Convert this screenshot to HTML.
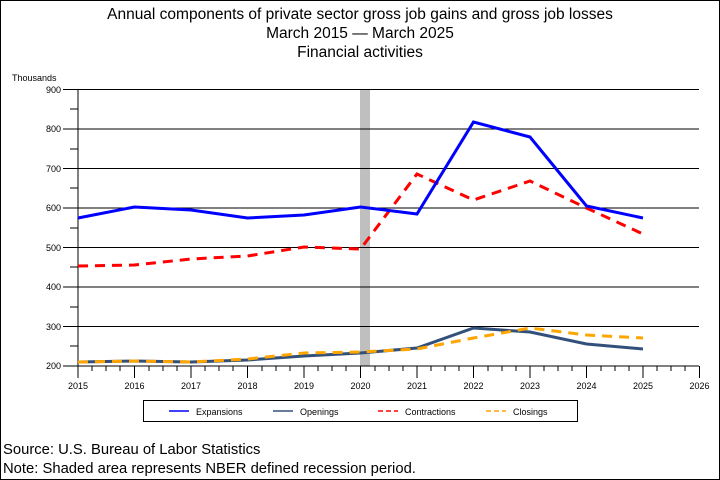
<!DOCTYPE html>
<html><head><style>
body{margin:0;background:#fff;}
svg{display:block;font-family:"Liberation Sans",sans-serif;}
</style></head><body>
<svg width="720" height="480" viewBox="0 0 720 480">
<rect x="0.5" y="0.5" width="719" height="479" fill="#fff" stroke="#000"/>
<g font-size="15.5" text-anchor="middle">
<text x="360" y="19">Annual components of private sector gross job gains and gross job losses</text>
<text x="360" y="38">March 2015 — March 2025</text>
<text x="360" y="57">Financial activities</text>
</g>
<text x="12" y="81" font-size="9">Thousands</text>
<rect x="360" y="89" width="10" height="277" fill="#bfbfbf"/>
<g stroke="#000" stroke-width="1">
<line x1="63" y1="89.5" x2="699" y2="89.5"/>
<line x1="63" y1="129" x2="699" y2="129"/>
<line x1="63" y1="168.5" x2="699" y2="168.5"/>
<line x1="63" y1="208" x2="699" y2="208"/>
<line x1="63" y1="247.5" x2="699" y2="247.5"/>
<line x1="63" y1="287" x2="699" y2="287"/>
<line x1="63" y1="326.5" x2="699" y2="326.5"/>
<line x1="63" y1="366" x2="699" y2="366"/>
<line x1="70" y1="109" x2="78" y2="109"/><line x1="70" y1="149" x2="78" y2="149"/><line x1="70" y1="188" x2="78" y2="188"/><line x1="70" y1="228" x2="78" y2="228"/><line x1="70" y1="267" x2="78" y2="267"/><line x1="70" y1="307" x2="78" y2="307"/><line x1="70" y1="346" x2="78" y2="346"/>
<line x1="78" y1="89" x2="78" y2="366"/>
</g>
<g font-size="9" text-anchor="end">
<text x="61" y="93">900</text><text x="61" y="132">800</text><text x="61" y="172">700</text><text x="61" y="211">600</text><text x="61" y="251">500</text><text x="61" y="290">400</text><text x="61" y="330">300</text><text x="61" y="369">200</text>
</g>
<g font-size="9" text-anchor="middle">
<text x="78" y="389">2015</text><text x="134.5" y="389">2016</text><text x="191" y="389">2017</text><text x="247.5" y="389">2018</text><text x="304" y="389">2019</text><text x="360.5" y="389">2020</text><text x="417" y="389">2021</text><text x="473.5" y="389">2022</text><text x="530" y="389">2023</text><text x="586.5" y="389">2024</text><text x="643" y="389">2025</text><text x="699.5" y="389">2026</text>
</g>
<g stroke="#000" stroke-width="1">
<path d="M78 366v12M134.5 366v12M191 366v12M247.5 366v12M304 366v12M360.5 366v12M417 366v12M473.5 366v12M530 366v12M586.5 366v12M643 366v12M699.5 366v12"/>
<path d="M92 366v5M106 366v5M120 366v5M149 366v5M163 366v5M177 366v5M205 366v5M219 366v5M233 366v5M262 366v5M276 366v5M290 366v5M318 366v5M332 366v5M346 366v5M375 366v5M389 366v5M403 366v5M431 366v5M445 366v5M459 366v5M488 366v5M502 366v5M516 366v5M544 366v5M558 366v5M572 366v5M601 366v5M615 366v5M629 366v5M657 366v5M671 366v5M685 366v5"/>
</g>
<g fill="none" stroke-width="3">
<polyline stroke="#33507a" points="78,362 134.5,361 191,362 247.5,360 304,356 360.5,353 417,348 473.5,328 530,332 586.5,344 643,349"/>
<polyline stroke="#ffa500" stroke-dasharray="10,7" points="78,362 134.5,361 191,362 247.5,359 304,353 360.5,352 417,349 473.5,338 530,328 586.5,335 643,338"/>
<polyline stroke="#ff0000" stroke-dasharray="10,7" points="78,266 134.5,265 191,259 247.5,256 304,247 360.5,249 417,174 473.5,200 530,181 586.5,208 643,234"/>
<polyline stroke="#0000ff" points="78,218 134.5,207 191,210 247.5,218 304,215 360.5,207 417,214 473.5,122 530,137 586.5,206 643,218"/>
</g>
<rect x="143.5" y="400.5" width="434" height="21" fill="#fff" stroke="#000"/>
<g font-size="9">
<line x1="169" y1="411" x2="189" y2="411" stroke="#0000ff" stroke-width="1.5"/><text x="196" y="415">Expansions</text>
<line x1="273" y1="411" x2="293" y2="411" stroke="#33507a" stroke-width="1.5"/><text x="300" y="415">Openings</text>
<line x1="378" y1="411" x2="398" y2="411" stroke="#ff0000" stroke-width="1.5" stroke-dasharray="5,3"/><text x="405" y="415">Contractions</text>
<line x1="486" y1="411" x2="506" y2="411" stroke="#ffa500" stroke-width="1.5" stroke-dasharray="5,3"/><text x="513" y="415">Closings</text>
</g>
<g font-size="14.8">
<text x="3" y="454">Source: U.S. Bureau of Labor Statistics</text>
<text x="3" y="473">Note: Shaded area represents NBER defined recession period.</text>
</g>
</svg>
</body></html>
